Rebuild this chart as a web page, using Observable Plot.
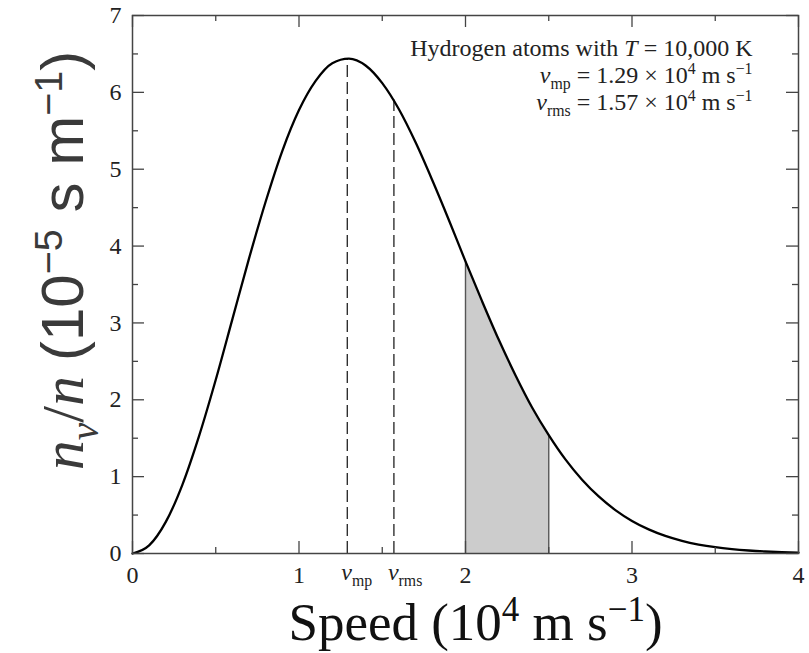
<!DOCTYPE html>
<html><head><meta charset="utf-8">
<script src="https://cdn.jsdelivr.net/npm/d3@7"></script>
<script src="https://cdn.jsdelivr.net/npm/@observablehq/plot@0.6"></script>
<style>body{margin:0;background:#fff;}</style>
</head><body><div id="chart"></div>
<script>
// Speed (10^4 m/s) and n_v/n (10^-5 s/m)
const speed = [0,0.1,0.2,0.3,0.4,0.5,0.6,0.7,0.8,0.9,1.0,1.1,1.2,1.3,1.4,1.5,1.6,1.7,1.8,1.9,2.0,
  2.1,2.2,2.3,2.4,2.5,2.6,2.7,2.8,2.9,3.0,3.1,3.2,3.3,3.4,3.5,3.6,3.7,3.8,3.9,4.0];
const density = [0,0.105,0.411,0.897,1.53,2.26,3.05,3.84,4.58,5.24,5.77,6.15,6.38,6.44,6.35,6.12,5.78,5.35,4.86,4.34,3.80,
  3.28,2.78,2.32,1.90,1.54,1.224,0.960,0.742,0.565,0.424,0.314,0.229,0.165,0.117,0.082,0.057,0.039,0.026,0.017,0.011];
const markerNames = ["*v*_{mp}", "*v*_{rms}"];
const markerSpeeds = [1.29, 1.57];
const markerHeights = [6.44, 5.90];
const shadeRange = [2.0, 2.5];
const xMajor = [0,1,2,3,4];
const xMinor = [0.5,1.5,2.5,3.5];
const yMajor = [0,1,2,3,4,5,6,7];
const yMinor = [0.5,1.5,2.5,3.5,4.5,5.5,6.5];
const infoLines = [
  "Hydrogen atoms with *T* = 10,000 K",
  "*v*_{mp} = 1.29 × 10^{4} m s^{−1}",
  "*v*_{rms} = 1.57 × 10^{4} m s^{−1}"
];
const xTitle = "Speed (10^{4} m s^{−1})";
const yTitle = "*n*_{*v*}/*n* ~(10^{−5} s m^{−1})~";

const rows = speed.map((v, i) => ({v, n: density[i]}));
const shaded = rows.filter(d => d.v >= shadeRange[0] && d.v <= shadeRange[1]);
const edges = rows.filter(d => d.v === shadeRange[0] || d.v === shadeRange[1]);
const markers = markerSpeeds.map((v, i) => ({v, n: markerHeights[i], name: markerNames[i]}));

const W = 809, H = 653, mL = 132, mR = 11, mT = 15, mB = 100;
const innerH = H - mT - mB, innerW = W - mL - mR;
const tickCol = "#444";

const chart = Plot.plot({
  width: W, height: H,
  marginLeft: mL, marginRight: mR, marginTop: mT, marginBottom: mB,
  x: {domain: [0, 4]},
  y: {domain: [0, 7]},
  style: {fontFamily: "'Liberation Serif', 'Times New Roman', serif", fontSize: "24px", color: "#222", background: "white"},
  marks: [
    Plot.areaY(shaded, {x: "v", y: "n", fill: "#cccccc", curve: "monotone-x"}),
    Plot.ruleX(edges, {x: "v", y1: 0, y2: "n", stroke: "#555", strokeWidth: 1.4}),
    Plot.ruleX(markers, {x: "v", y1: 0, y2: "n", stroke: "#222", strokeWidth: 1.3, strokeDasharray: "12,5"}),
    Plot.line(rows, {x: "v", y: "n", curve: "monotone-x", stroke: "black", strokeWidth: 2.3}),
    // inward ticks on all four sides
    Plot.tickX(xMajor, {x: d => d, insetTop: innerH - 12, stroke: tickCol, strokeWidth: 1.3}),
    Plot.tickX(xMajor, {x: d => d, insetBottom: innerH - 12, stroke: tickCol, strokeWidth: 1.3}),
    Plot.tickX(xMinor, {x: d => d, insetTop: innerH - 6, stroke: tickCol, strokeWidth: 1.3}),
    Plot.tickX(xMinor, {x: d => d, insetBottom: innerH - 6, stroke: tickCol, strokeWidth: 1.3}),
    Plot.tickY(yMajor, {y: d => d, insetRight: innerW - 12, stroke: tickCol, strokeWidth: 1.3}),
    Plot.tickY(yMajor, {y: d => d, insetLeft: innerW - 12, stroke: tickCol, strokeWidth: 1.3}),
    Plot.tickY(yMinor, {y: d => d, insetRight: innerW - 6, stroke: tickCol, strokeWidth: 1.3}),
    Plot.tickY(yMinor, {y: d => d, insetLeft: innerW - 6, stroke: tickCol, strokeWidth: 1.3}),
    Plot.frame({stroke: tickCol, strokeWidth: 1.5}),
    Plot.axisX({ticks: xMajor, tickSize: 0, tickPadding: 12, label: null, fontSize: 24, tickFormat: d => String(d)}),
    Plot.axisY({ticks: yMajor, tickSize: 0, tickPadding: 11, label: null, fontSize: 24, tickFormat: d => String(d)}),
    Plot.text(markers, {x: "v", text: "name", frameAnchor: "bottom", textAnchor: "start", lineAnchor: "bottom", dx: -6, dy: 26, fontSize: 24}),
    Plot.text([infoLines[0]], {frameAnchor: "top-right", textAnchor: "end", lineAnchor: "bottom", dx: -46, dy: 40, fontSize: 24}),
    Plot.text([infoLines[1]], {frameAnchor: "top-right", textAnchor: "end", lineAnchor: "bottom", dx: -46, dy: 67, fontSize: 24}),
    Plot.text([infoLines[2]], {frameAnchor: "top-right", textAnchor: "end", lineAnchor: "bottom", dx: -46, dy: 94, fontSize: 24}),
    Plot.text([xTitle], {frameAnchor: "bottom", textAnchor: "middle", lineAnchor: "bottom", dx: 10, dy: 86, fontSize: 53, fill: "#111"}),
    Plot.text([yTitle], {frameAnchor: "left", rotate: -90, textAnchor: "middle", lineAnchor: "bottom", dx: -50, dy: -24, fontSize: 60, fill: "#3a3a3a"})
  ]
});
document.getElementById("chart").appendChild(chart);

// turn the small markup (*italic*, _{sub}, ^{sup}, ~sans~) into tspans
function richify(el) {
  const src = el.textContent;
  if (!/[*_^~]/.test(src)) return;
  const size = parseFloat(getComputedStyle(el).fontSize);
  const segs = [];
  let italic = false, sans = false, i = 0;
  const push = (ch, shift) => {
    const last = segs[segs.length - 1];
    if (last && last.italic === italic && last.sans === sans && last.shift === shift) last.text += ch;
    else segs.push({text: ch, italic, sans, shift});
  };
  while (i < src.length) {
    const c = src[i];
    if (c === "*") { italic = !italic; i++; continue; }
    if (c === "~") { sans = !sans; i++; continue; }
    if ((c === "_" || c === "^") && src[i + 1] === "{") {
      const end = src.indexOf("}", i + 2);
      const shift = c === "_" ? "sub" : "sup";
      for (let j = i + 2; j < end; j++) {
        if (src[j] === "*") { italic = !italic; continue; }
        push(src[j], shift);
      }
      i = end + 1; continue;
    }
    push(c, 0); i++;
  }
  while (el.firstChild) el.removeChild(el.firstChild);
  let cur = 0;
  for (const s of segs) {
    const ts = document.createElementNS("http://www.w3.org/2000/svg", "tspan");
    const target = s.shift === "sub" ? size * 0.26 : s.shift === "sup" ? -size * 0.34 : 0;
    if (target !== cur) { ts.setAttribute("dy", target - cur); cur = target; }
    ts.setAttribute("font-size", s.shift ? size * 0.66 : size);
    if (s.italic) ts.setAttribute("font-style", "italic");
    if (s.sans) ts.setAttribute("font-family", "'Liberation Sans', Arial, sans-serif");
    ts.textContent = s.text;
    el.appendChild(ts);
  }
}
chart.querySelectorAll("text").forEach(richify);
</script>
</body></html>
